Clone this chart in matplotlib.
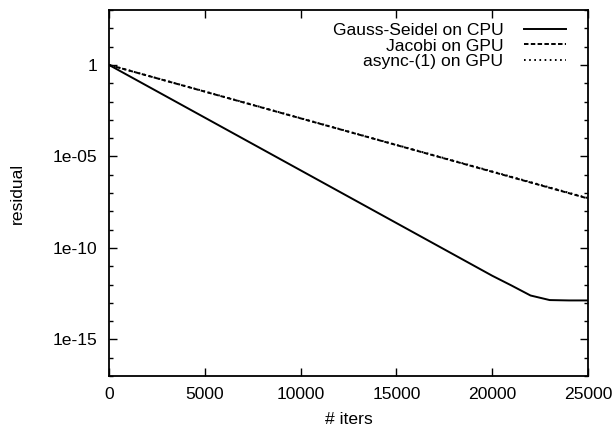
import matplotlib
matplotlib.use("Agg")
import matplotlib.pyplot as plt
from matplotlib.ticker import FixedLocator, LogLocator, NullFormatter
import numpy as np

plt.rcParams['font.family'] = ['Liberation Sans', 'DejaVu Sans']

# iteration count and log10 of the residual
gs_iters = [0, 5000, 10000, 15000, 20000, 21000, 22000, 23000, 24000, 25000]
gs_log_res = [0.0, -2.88, -5.76, -8.64, -11.52, -12.05, -12.6, -12.85, -12.87, -12.87]

jac_iters = [0, 5000, 10000, 15000, 20000, 25000]
jac_log_res = [0.0, -1.46, -2.92, -4.38, -5.84, -7.3]

async_iters = [0, 5000, 10000, 15000, 20000, 25000]
async_log_res = [0.0, -1.45, -2.91, -4.37, -5.82, -7.28]

ytick_vals = [1e0, 1e-5, 1e-10, 1e-15]
ytick_labels = ["1", "1e-05", "1e-10", "1e-15"]
xtick_vals = [0, 5000, 10000, 15000, 20000, 25000]

fs = 12.6

fig = plt.figure(figsize=(6.15, 4.33), dpi=100)
ax = fig.add_axes([0.1772, 0.1316, 0.7789, 0.8453])

lw = 1.4
ax.plot(gs_iters, 10.0 ** np.array(gs_log_res), color="black", lw=lw,
        label="Gauss-Seidel on CPU")
ax.plot(jac_iters, 10.0 ** np.array(jac_log_res), color="black", lw=lw,
        dashes=(2.3, 1.2), label="Jacobi on GPU")
ax.plot(async_iters, 10.0 ** np.array(async_log_res), color="black", lw=lw,
        dashes=(0.85, 1.8), label="async-(1) on GPU")

ax.set_yscale("log")
ax.set_xlim(0, 25000)
ax.set_ylim(1e-17, 1e3)

ax.yaxis.set_major_locator(FixedLocator(ytick_vals))
ax.set_yticklabels(ytick_labels)
ax.yaxis.set_minor_locator(LogLocator(base=10, subs=(1.0,), numticks=40))
ax.yaxis.set_minor_formatter(NullFormatter())
ax.set_xticks(xtick_vals)

ax.tick_params(which="both", direction="in", top=True, right=True,
               labelsize=fs, width=1)
ax.tick_params(axis="y", pad=8.5)
ax.tick_params(axis="x", pad=8)
ax.tick_params(which="major", length=5.8)
ax.tick_params(which="minor", length=3)
for s in ax.spines.values():
    s.set_linewidth(1.3)

ax.set_xlabel("# iters", fontsize=fs, labelpad=7)
ax.set_ylabel("residual", fontsize=fs, labelpad=20)

ax.legend(loc="upper right", frameon=False, markerfirst=False, fontsize=fs,
          handlelength=2.4, handletextpad=1.15, labelspacing=0.0,
          borderaxespad=0.2, bbox_to_anchor=(0.975, 0.993))

fig.savefig("out.png", dpi=100)
